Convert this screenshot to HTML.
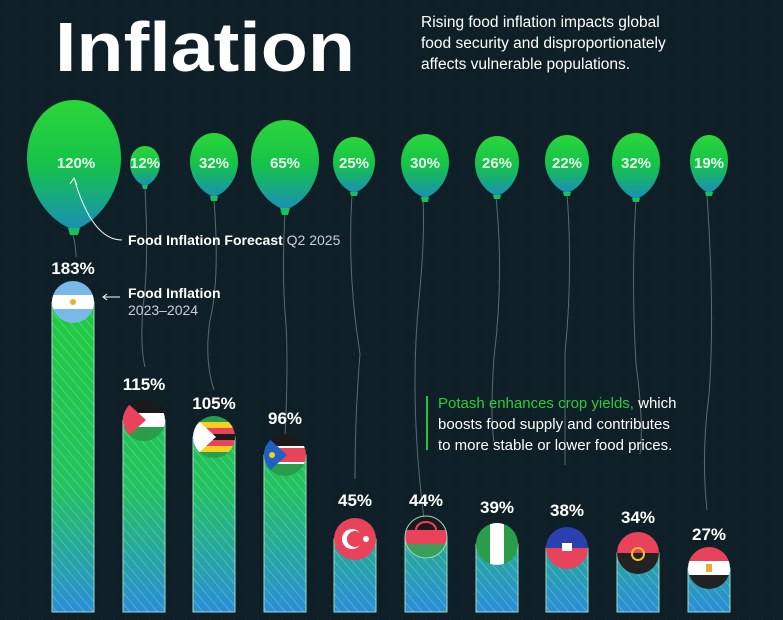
<!DOCTYPE html>
<html><head><meta charset="utf-8"><style>
body{margin:0;background:#0e1f27;}
svg{display:block}
text{font-family:"Liberation Sans",sans-serif}
</style></head><body>
<svg width="783" height="620" viewBox="0 0 783 620" xmlns="http://www.w3.org/2000/svg">
<defs>
<pattern id="dots" width="12" height="12" patternUnits="userSpaceOnUse"><circle cx="6" cy="6" r="0.7" fill="#1f333b"/></pattern>
<linearGradient id="bal" x1="0" y1="0" x2="0" y2="1"><stop offset="0" stop-color="#2bd63a"/><stop offset="0.5" stop-color="#16c24a"/><stop offset="1" stop-color="#1a8fb8"/></linearGradient>
<linearGradient id="bar" gradientUnits="userSpaceOnUse" x1="0" y1="300" x2="0" y2="612"><stop offset="0" stop-color="#1fcb3f"/><stop offset="0.6" stop-color="#22c260"/><stop offset="1" stop-color="#2a8ed8"/></linearGradient>
<pattern id="str" width="7" height="7" patternUnits="userSpaceOnUse" patternTransform="rotate(-40)"><line x1="0" y1="0" x2="0" y2="7" stroke="#ffffff" stroke-opacity="0.35" stroke-width="1.2"/></pattern>
<path id="bl" d="M0,1 C-0.6,0.85 -1,0.35 -1,-0.1 C-1,-0.65 -0.55,-1 0,-1 C0.55,-1 1,-0.65 1,-0.1 C1,0.35 0.6,0.85 0,1Z"/>
</defs>
<rect width="783" height="620" fill="#0e1f27"/>
<rect width="783" height="620" fill="url(#dots)"/>
<!-- title -->
<text x="55" y="71" font-size="70" font-weight="bold" fill="#fff" textLength="300" lengthAdjust="spacingAndGlyphs">Inflation</text>
<g font-size="15.5" fill="#fff">
<text x="421" y="27">Rising food inflation impacts global</text>
<text x="421" y="48">food security and disproportionately</text>
<text x="421" y="69">affects vulnerable populations.</text>
</g>
<!-- strings -->
<g stroke="#5a6a70" stroke-width="1" fill="none">
<path d="M73 235 q3 12 3 22"/>
<path d="M145 187 q4 80 -2 120 q-3 40 2 60"/>
<path d="M214 200 q6 80 -4 120 q-6 40 4 70"/>
<path d="M285 212 q-3 60 0 100 q4 40 0 125"/>
<path d="M352 194 q-5 80 8 160 q-5 60 -5 125"/>
<path d="M423 199 q2 40 -4 100 q-10 100 5 220"/>
<path d="M496 197 q8 80 -2 160 q-4 60 0 85"/>
<path d="M567 193 q6 80 -2 160 q0 70 0 112"/>
<path d="M636 199 q-5 80 0 165 q8 60 4 90"/>
<path d="M707 195 q8 120 2 200 q-8 60 -2 115"/>
</g>
<!-- balloons -->
<g fill="url(#bal)">
<use href="#bl" transform="translate(74,165) scale(47,65)"/>
<use href="#bl" transform="translate(145,166) scale(15,20)"/>
<use href="#bl" transform="translate(214,165) scale(24,32)"/>
<use href="#bl" transform="translate(285,165) scale(34,45)"/>
<use href="#bl" transform="translate(354,165) scale(21,28)"/>
<use href="#bl" transform="translate(425,166) scale(24,32)"/>
<use href="#bl" transform="translate(497,166) scale(22,30)"/>
<use href="#bl" transform="translate(567,164) scale(22,29)"/>
<use href="#bl" transform="translate(636,166) scale(24,33)"/>
<use href="#bl" transform="translate(709,164) scale(19,29)"/>
</g>
<g fill="#17c25a">
<path d="M68 228 L80 228 L78 235 L70 235Z"/><path d="M280 208 L290 208 L288 215 L282 215Z"/>
<path d="M142 185 L148 185 L147 189 L143 189Z"/><path d="M210 196 L218 196 L217 201 L211 201Z"/>
<path d="M350 192 L358 192 L357 196 L351 196Z"/><path d="M421 197 L429 197 L428 202 L422 202Z"/>
<path d="M493 195 L501 195 L500 199 L494 199Z"/><path d="M563 192 L571 192 L570 196 L564 196Z"/>
<path d="M632 198 L640 198 L639 202 L633 202Z"/><path d="M705 192 L713 192 L712 196 L706 196Z"/>
</g>
<g font-size="15" font-weight="bold" fill="#eafff0" text-anchor="middle">
<text x="76" y="168">120%</text><text x="145" y="168">12%</text><text x="214" y="168">32%</text>
<text x="285" y="168">65%</text><text x="354" y="168">25%</text><text x="425" y="168">30%</text>
<text x="497" y="168">26%</text><text x="567" y="168">22%</text><text x="636" y="168">32%</text><text x="709" y="168">19%</text>
</g>
<path d="M122 240 q-30 0 -48 -62" stroke="#fff" fill="none" stroke-width="1"/>
<path d="M70 184 l4 -6 l3 7" stroke="#fff" fill="none"/>
<text x="128" y="245" font-size="14" fill="#fff"><tspan font-weight="bold">Food Inflation Forecast</tspan><tspan fill="#ccd"> Q2 2025</tspan></text>
<text x="128" y="298" font-size="14" font-weight="bold" fill="#fff">Food Inflation</text>
<text x="128" y="315" font-size="14" fill="#ccd">2023–2024</text>
<path d="M120 297 h-17 m4 -3 l-4 3 l4 3" stroke="#fff" fill="none"/>
<!-- bars -->
<g stroke="#9fd8c0" stroke-width="1">
<rect x="52" y="302" width="42" height="310" fill="url(#bar)"/>
<rect x="123" y="420" width="42" height="192" fill="url(#bar)"/>
<rect x="193" y="437" width="42" height="175" fill="url(#bar)"/>
<rect x="264" y="455" width="42" height="157" fill="url(#bar)"/>
<rect x="334" y="539" width="42" height="73" fill="url(#bar)"/>
<rect x="405" y="537" width="42" height="75" fill="url(#bar)"/>
<rect x="476" y="544" width="42" height="68" fill="url(#bar)"/>
<rect x="546" y="548" width="42" height="64" fill="url(#bar)"/>
<rect x="617" y="553" width="42" height="59" fill="url(#bar)"/>
<rect x="688" y="568" width="42" height="44" fill="url(#bar)"/>
</g>
<g fill="url(#str)">
<rect x="52" y="302" width="42" height="310"/><rect x="123" y="420" width="42" height="192"/>
<rect x="193" y="437" width="42" height="175"/><rect x="264" y="455" width="42" height="157"/>
<rect x="334" y="539" width="42" height="73"/><rect x="405" y="537" width="42" height="75"/>
<rect x="476" y="544" width="42" height="68"/><rect x="546" y="548" width="42" height="64"/>
<rect x="617" y="553" width="42" height="59"/><rect x="688" y="568" width="42" height="44"/>
</g>
<!-- flags -->
<clipPath id="c1"><circle cx="73" cy="302" r="21"/></clipPath>
<g clip-path="url(#c1)"><rect x="52" y="281" width="42" height="42" fill="#7ab8ea"/><rect x="52" y="295" width="42" height="14" fill="#fff"/><circle cx="73" cy="302" r="3" fill="#e8b030"/></g>
<clipPath id="c2"><circle cx="144" cy="420" r="21"/></clipPath>
<g clip-path="url(#c2)"><rect x="123" y="399" width="42" height="14" fill="#1a1a1a"/><rect x="123" y="413" width="42" height="14" fill="#fff"/><rect x="123" y="427" width="42" height="14" fill="#2a9d4a"/><path d="M123 399 L146 420 L123 441Z" fill="#e8435a"/></g>
<clipPath id="c3"><circle cx="214" cy="437" r="21"/></clipPath>
<g clip-path="url(#c3)"><rect x="193" y="416" width="42" height="42" fill="#2a9d4a"/><rect x="193" y="422" width="42" height="6" fill="#f5d020"/><rect x="193" y="428" width="42" height="6" fill="#e8435a"/><rect x="193" y="434" width="42" height="6" fill="#1a1a1a"/><rect x="193" y="440" width="42" height="6" fill="#e8435a"/><rect x="193" y="446" width="42" height="6" fill="#f5d020"/><path d="M193 416 L216 437 L193 458Z" fill="#fff"/></g>
<clipPath id="c4"><circle cx="285" cy="455" r="21"/></clipPath>
<g clip-path="url(#c4)"><rect x="264" y="434" width="42" height="14" fill="#1a1a1a"/><rect x="264" y="448" width="42" height="14" fill="#e8435a"/><rect x="264" y="462" width="42" height="14" fill="#2a9d4a"/><rect x="264" y="446" width="42" height="2" fill="#fff"/><rect x="264" y="462" width="42" height="2" fill="#fff"/><path d="M264 434 L287 455 L264 476Z" fill="#2060c0"/><circle cx="272" cy="455" r="3" fill="#f5d020"/></g>
<circle cx="355" cy="539" r="21" fill="#e8435a"/><circle cx="352" cy="539" r="10" fill="#fff"/><circle cx="355" cy="539" r="8" fill="#e8435a"/><circle cx="366" cy="539" r="3" fill="#fff"/>
<clipPath id="c6"><circle cx="426" cy="537" r="21"/></clipPath>
<g clip-path="url(#c6)"><rect x="405" y="516" width="42" height="14" fill="#1a1a1a"/><rect x="405" y="530" width="42" height="14" fill="#e8435a"/><rect x="405" y="544" width="42" height="14" fill="#3a9e5a"/><path d="M416 530 a10 8 0 0 1 20 0" fill="none" stroke="#e8435a" stroke-width="2"/></g>
<circle cx="426" cy="537" r="21" fill="none" stroke="#9fd8c0" stroke-width="1"/>
<clipPath id="c7"><circle cx="497" cy="544" r="21"/></clipPath>
<g clip-path="url(#c7)"><rect x="476" y="523" width="42" height="42" fill="#2a9d4a"/><rect x="490" y="523" width="14" height="42" fill="#fff"/></g>
<clipPath id="c8"><circle cx="567" cy="548" r="21"/></clipPath>
<g clip-path="url(#c8)"><rect x="546" y="527" width="42" height="21" fill="#2a40b0"/><rect x="546" y="548" width="42" height="21" fill="#e8435a"/><rect x="562" y="543" width="10" height="8" fill="#fff"/></g>
<clipPath id="c9"><circle cx="638" cy="553" r="21"/></clipPath>
<g clip-path="url(#c9)"><rect x="617" y="532" width="42" height="21" fill="#e8435a"/><rect x="617" y="553" width="42" height="21" fill="#222"/><circle cx="638" cy="554" r="6" fill="none" stroke="#f5c020" stroke-width="2"/></g>
<clipPath id="c10"><circle cx="709" cy="568" r="21"/></clipPath>
<g clip-path="url(#c10)"><rect x="688" y="547" width="42" height="14" fill="#e8435a"/><rect x="688" y="561" width="42" height="14" fill="#fff"/><rect x="688" y="575" width="42" height="14" fill="#222"/><rect x="706" y="564" width="6" height="8" fill="#e0b030"/></g>
<!-- values -->
<g font-size="17" font-weight="bold" fill="#fff" text-anchor="middle">
<text x="73" y="274">183%</text><text x="144" y="390">115%</text><text x="214" y="409">105%</text><text x="285" y="424">96%</text>
<text x="355" y="506">45%</text><text x="426" y="506">44%</text><text x="497" y="513">39%</text><text x="567" y="516">38%</text><text x="638" y="523">34%</text><text x="709" y="540">27%</text>
</g>
<rect x="426" y="396" width="2" height="54" fill="#22c33a"/>
<g font-size="15" fill="#fff">
<text x="438" y="408"><tspan fill="#2ccb3a">Potash enhances crop yields,</tspan> which</text>
<text x="438" y="429">boosts food supply and contributes</text>
<text x="438" y="450">to more stable or lower food prices.</text>
</g>
</svg>
</body></html>
